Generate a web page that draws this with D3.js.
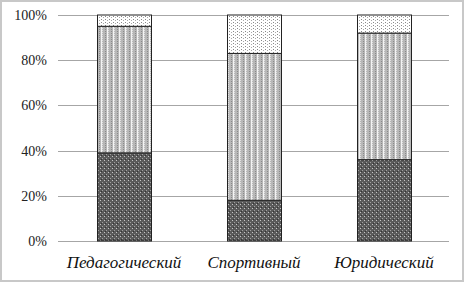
<!DOCTYPE html>
<html><head><meta charset="utf-8">
<script src="https://cdn.jsdelivr.net/npm/d3@7"></script>
<style>body{margin:0;background:#fff}svg{display:block}</style>
</head><body>
<svg id="c" width="465" height="283"></svg>
<script>
const categories = ["Педагогический", "Спортивный", "Юридический"];
const seriesLow = [39, 18, 36];
const seriesMid = [56, 65, 56];
const seriesTop = [5, 17, 8];
const yTicks = [0, 20, 40, 60, 80, 100];

const svg = d3.select("#c");
const defs = svg.append("defs");
// dark pattern
const p1 = defs.append("pattern").attr("id","pDark").attr("patternUnits","userSpaceOnUse").attr("width",4).attr("height",4);
p1.append("rect").attr("width",4).attr("height",4).attr("fill","#5a5a5a");
p1.append("rect").attr("x",0).attr("y",0).attr("width",1).attr("height",1).attr("fill","#c4c4c4");
p1.append("rect").attr("x",2).attr("y",2).attr("width",1).attr("height",1).attr("fill","#a0a0a0");
p1.append("rect").attr("x",1).attr("y",3).attr("width",1).attr("height",1).attr("fill","#333");
// mid pattern
const p2 = defs.append("pattern").attr("id","pMid").attr("patternUnits","userSpaceOnUse").attr("width",6).attr("height",2);
p2.append("rect").attr("width",6).attr("height",2).attr("fill","#b8b8b8");
p2.append("rect").attr("x",0).attr("y",0).attr("width",1).attr("height",1).attr("fill","#e0e0e0");
p2.append("rect").attr("x",3).attr("y",1).attr("width",1).attr("height",1).attr("fill","#8a8a8a");
p2.append("rect").attr("x",5).attr("y",0).attr("width",1).attr("height",2).attr("fill","#f4f4f4");
// top pattern
const p3 = defs.append("pattern").attr("id","pTop").attr("patternUnits","userSpaceOnUse").attr("width",4).attr("height",3);
p3.append("rect").attr("width",4).attr("height",3).attr("fill","#fff");
p3.append("rect").attr("x",1).attr("y",1).attr("width",1).attr("height",1).attr("fill","#888");
p3.append("rect").attr("x",3).attr("y",2).attr("width",1).attr("height",1).attr("fill","#aaa");

svg.append("rect").attr("x",1).attr("y",1).attr("width",462).attr("height",280)
  .attr("fill","#fff").attr("stroke","#c8c8c8").attr("stroke-width",2);

const x = d3.scaleBand().domain(categories).range([59, 449]).paddingInner(0.585).paddingOuter(0.2925);
const y = d3.scaleLinear().domain([0,100]).range([241, 15]);

const grid = svg.append("g");
grid.selectAll("line").data(yTicks).join("line")
  .attr("x1",58).attr("x2",449).attr("y1",d=>Math.round(y(d))+0.5).attr("y2",d=>Math.round(y(d))+0.5)
  .attr("stroke","#a6a6a6").attr("stroke-width",1);

const yAxis = svg.append("g").attr("transform","translate(47,0)")
  .call(d3.axisLeft(y).tickValues(yTicks).tickFormat(d=>d+"%").tickSize(0).tickPadding(0));
yAxis.select(".domain").remove();
yAxis.selectAll("text").attr("font-family","Liberation Serif").attr("font-size",14).attr("fill","#222");

const stack = categories.map((c,i)=>[
  {c, y0:0, y1:seriesLow[i], f:"url(#pDark)"},
  {c, y0:seriesLow[i], y1:seriesLow[i]+seriesMid[i], f:"url(#pMid)"},
  {c, y0:seriesLow[i]+seriesMid[i], y1:seriesLow[i]+seriesMid[i]+seriesTop[i], f:"url(#pTop)"}
]).flat();

svg.append("g").selectAll("rect").data(stack).join("rect")
  .attr("x",d=>Math.round(x(d.c))+0.5).attr("width",Math.round(x.bandwidth()))
  .attr("y",d=>y(d.y1)).attr("height",d=>y(d.y0)-y(d.y1))
  .attr("fill",d=>d.f).attr("stroke","#222").attr("stroke-width",1);

const xAxis = svg.append("g").attr("transform","translate(0,241)")
  .call(d3.axisBottom(x).tickSize(0).tickPadding(15));
xAxis.select(".domain").remove();
xAxis.selectAll("text").attr("font-family","Liberation Serif").attr("font-style","italic").attr("font-size",17).attr("fill","#111");
</script>
</body></html>
